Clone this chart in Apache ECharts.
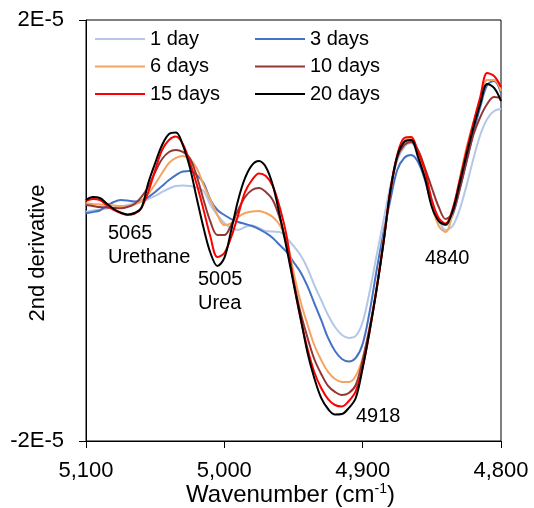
<!DOCTYPE html>
<html>
<head>
<meta charset="utf-8">
<script src="https://cdn.jsdelivr.net/npm/echarts@6/dist/echarts.min.js"></script>
<style>
html,body{margin:0;padding:0;background:#fff;}
#chart{width:534px;height:508px;}
</style>
</head>
<body>
<div id="chart"></div>
<script>
// Wavenumbers (cm-1)
const wavenumbers = [5100,5095,5090,5085,5080,5075,5070,5065,5060,5055,5050,5045,5040,5035,5030,5025,5020,5015,5010,5005,
  5000,4995,4990,4985,4980,4975,4970,4965,4960,4955,4950,4945,4940,4935,4930,4925,4920,4915,4910,4905,
  4900,4895,4890,4885,4880,4875,4870,4865,4860,4855,4850,4845,4840,4835,4830,4825,4820,4815,4810,4805,4800];

// 2nd derivative values, in units of 1E-6
const SCALE = 1e-6;
const day1 = [1.79,1.90,2.00,2.09,2.19,2.28,2.42,2.57,2.71,2.99,3.28,3.66,3.99,4.23,4.28,4.23,4.09,3.75,2.42,1.47,
  0.71,0.24,0.05,0.33,0.48,0.24,-0.05,-0.10,-0.14,-0.71,-1.47,-2.33,-3.56,-5.18,-6.60,-8.03,-9.17,-9.93,-10.21,-10.02,
  -8.69,-5.84,-2.42,0.90,4.23,6.70,7.93,8.31,7.17,5.27,2.90,1.00,0.05,0.43,1.95,4.23,6.79,9.07,10.59,11.35,11.54];
const day3 = [1.63,1.76,1.90,2.33,2.71,2.90,2.85,2.76,2.85,3.18,3.66,4.23,4.80,5.27,5.61,5.65,5.27,4.51,2.90,1.95,
  1.47,1.09,0.81,0.62,0.43,0.14,-0.24,-0.71,-1.38,-2.04,-2.99,-3.94,-5.27,-6.89,-8.50,-10.21,-11.45,-12.21,-12.45,-12.11,
  -10.78,-7.74,-3.85,-0.24,2.90,5.75,6.89,7.17,6.51,4.80,2.42,0.90,0.52,1.47,3.85,6.51,9.26,11.73,13.82,14.20,13.06];
const day6 = [2.58,2.52,2.47,2.42,2.38,2.33,2.33,2.47,2.80,3.47,4.42,5.46,6.41,6.89,7.08,6.79,5.94,4.32,2.90,1.47,
  0.52,0.71,1.28,1.66,1.81,1.85,1.66,1.28,0.52,-0.90,-3.94,-6.70,-8.88,-10.88,-12.30,-13.44,-14.11,-14.39,-14.39,-13.82,
  -12.11,-9.26,-5.37,-0.90,3.66,6.98,8.50,8.69,7.36,5.18,2.42,0.43,-0.14,1.66,4.80,7.84,10.21,12.40,14.30,14.30,13.25];
const day10 = [2.42,2.33,2.23,2.19,2.14,2.11,2.23,2.52,3.18,4.13,5.56,6.79,7.46,7.65,7.46,6.89,5.18,2.90,0.81,-0.43,
  -0.43,0.52,1.95,3.18,3.85,4.04,3.66,2.90,1.19,-1.38,-4.70,-7.74,-10.12,-12.21,-13.63,-14.77,-15.34,-15.63,-15.44,-14.68,
  -12.30,-9.26,-5.65,-1.19,3.56,6.89,8.12,8.41,7.65,5.94,4.04,2.23,1.09,1.66,3.85,6.51,9.07,10.78,12.02,12.68,12.59];
const day15 = [2.83,2.99,2.90,2.42,1.95,1.66,1.47,1.57,2.14,3.66,5.75,7.65,8.60,8.93,8.22,6.51,4.42,1.95,-0.62,-2.52,
  -2.14,-0.62,1.47,3.66,4.80,5.42,5.18,4.23,2.23,-0.52,-4.89,-8.31,-11.16,-13.44,-14.96,-16.01,-16.58,-16.72,-16.20,-15.25,
  -12.97,-9.64,-5.65,-1.19,3.85,7.17,8.79,8.88,7.46,5.75,2.90,1.19,0.67,2.04,4.70,7.55,10.21,12.68,14.96,14.68,13.63];
const day20 = [2.90,3.18,3.09,2.57,2.04,1.71,1.52,1.66,2.14,4.51,6.41,8.12,9.17,9.31,8.12,6.03,3.09,0.24,-2.14,-3.37,
  -2.61,0.05,2.90,4.99,6.22,6.60,6.03,4.32,1.47,-1.66,-4.99,-8.22,-11.54,-14.01,-15.91,-16.96,-17.48,-17.43,-16.86,-15.91,
  -13.06,-9.55,-5.65,-1.19,3.75,7.08,8.41,8.60,6.98,4.99,2.23,0.90,0.57,1.85,4.42,7.17,9.74,12.02,13.92,13.54,12.30];

const seriesNames = ['1 day','3 days','6 days','10 days','15 days','20 days'];
const seriesValues = [day1, day3, day6, day10, day15, day20];
const seriesColors = ['#B4C7E7','#4472C4','#F4A460','#943634','#FF0000','#000000'];

const xMin = 4800, xMax = 5100, xStep = 100;
const yMin = -2e-5, yMax = 2e-5;
const yTickValues = [-2e-5, 2e-5];
const yTitle = '2nd derivative';

const annotations = [
  {text:'5065\nUrethane', x:108, y:222},
  {text:'5005\nUrea', x:198, y:268},
  {text:'4918', x:356, y:405},
  {text:'4840', x:425, y:247}
];

const FONT = '"Liberation Sans", Arial, sans-serif';

const chart = echarts.init(document.getElementById('chart'), null, {renderer:'canvas'});

const series = seriesNames.map((name, k) => ({
  name: name,
  type: 'line',
  symbol: 'none',
  smooth: 0.35,
  lineStyle: {width: 2, color: seriesColors[k]},
  itemStyle: {color: seriesColors[k]},
  data: wavenumbers.map((w, i) => [w, seriesValues[k][i] * SCALE])
}));

const legendCommon = {
  orient: 'vertical',
  top: 29,
  padding: 0,
  icon: 'rect',
  itemWidth: 50,
  itemHeight: 2,
  itemGap: 7.5,
  textStyle: {fontSize: 20, fontFamily: FONT, color: '#000', lineHeight: 20}
};

const option = {
  animation: false,
  backgroundColor: '#fff',
  grid: {left: 86, right: 33, top: 20, bottom: 67, outerBoundsMode: 'none', containLabel: false,
    show: true, borderColor: '#000', borderWidth: 1, backgroundColor: 'transparent'},
  legend: [
    Object.assign({}, legendCommon, {left: 95, data: [seriesNames[0], seriesNames[2], seriesNames[4]]}),
    Object.assign({}, legendCommon, {left: 255, data: [seriesNames[1], seriesNames[3], seriesNames[5]]})
  ],
  xAxis: {
    type: 'value',
    inverse: true,
    min: xMin, max: xMax, interval: xStep,
    name: '{a|Wavenumber (cm}{s|-1}{a|)}',
    nameLocation: 'middle',
    nameGap: 41,
    nameMoveOverlap: false,
    nameTextStyle: {
      padding: [0, 6, 0, 0],
      rich: {
        a: {fontSize: 24, fontFamily: FONT, color: '#000', lineHeight: 26},
        s: {fontSize: 14, fontFamily: FONT, color: '#000', verticalAlign: 'top', lineHeight: 26, padding: [0,0,11,0]}
      }
    },
    axisLine: {show: true, onZero: false, lineStyle: {color: '#000', width: 1}},
    axisTick: {show: true, inside: false, length: 7, lineStyle: {color: '#000', width: 1}},
    axisLabel: {show: true, margin: 19, fontSize: 22, fontFamily: FONT, color: '#000',
      formatter: v => v.toLocaleString('en-US')},
    splitLine: {show: false}
  },
  yAxis: {
    type: 'value',
    min: yMin, max: yMax,
    axisLine: {show: true, onZero: false, lineStyle: {color: '#000', width: 1}},
    axisTick: {show: true, inside: false, length: 7, customValues: yTickValues, lineStyle: {color: '#000', width: 1}},
    axisLabel: {show: true, margin: 22, fontSize: 22, fontFamily: FONT, color: '#000', customValues: yTickValues,
      formatter: v => v.toExponential(0).toUpperCase().replace('E+', 'E')},
    splitLine: {show: false}
  },
  graphic: [
    {
      type: 'text',
      x: 38, y: 253,
      rotation: Math.PI / 2,
      z: 100,
      style: {text: yTitle, fill: '#000', font: '22px ' + FONT, align: 'center', verticalAlign: 'middle'}
    }
  ].concat(annotations.map(a => ({
    type: 'text',
    left: a.x, top: a.y,
    z: 100,
    style: {text: a.text, fill: '#000', font: '20px ' + FONT, lineHeight: 23.5}
  }))),
  series: series
};

chart.setOption(option);
</script>
</body>
</html>
